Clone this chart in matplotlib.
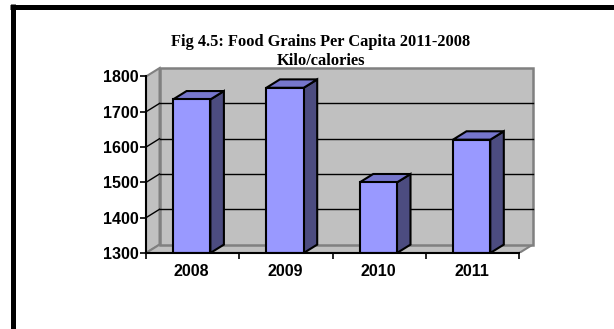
import matplotlib
matplotlib.use("Agg")
import matplotlib.pyplot as plt
from matplotlib.patches import Polygon, Rectangle
from matplotlib.lines import Line2D

# Food grains per capita (kilo/calories)
years = ["2008", "2009", "2010", "2011"]
calories = [1735, 1768, 1500, 1621]
y_ticks = [1300, 1400, 1500, 1600, 1700, 1800]

# 3D look: offset of the back plane in data units
DX = 0.145
DY = 23.8
Y0, Y1 = 1300, 1800
N = len(years)

FRONT = "#9999FF"
TOP = "#7676CC"
SIDE = "#4C4C80"
WALL = "#C0C0C0"
WALL_EDGE = "#808080"

fig = plt.figure(figsize=(6.14, 3.29), dpi=100)
ax = fig.add_axes([146 / 614, 76 / 329, (N + 0.2) * 93.3 / 614, (530 * 0.353) / 329])
ax.set_xlim(0, N + 0.2)
ax.set_ylim(Y0, Y0 + 530)

# walls and floor
ax.add_patch(Polygon([(0, Y0), (DX, Y0 + DY), (DX, Y1 + DY), (0, Y1)],
                     facecolor=WALL, edgecolor=WALL_EDGE, lw=1.5, zorder=0))
ax.add_patch(Polygon([(0, Y0), (N, Y0), (N + DX, Y0 + DY), (DX, Y0 + DY)],
                     facecolor=WALL, edgecolor=WALL_EDGE, lw=1.5, zorder=0))
ax.add_patch(Rectangle((DX, Y0 + DY), N, Y1 - Y0, facecolor=WALL,
                       edgecolor=WALL_EDGE, lw=1.8, zorder=0.5))

# gridlines on back wall and side wall
for v in y_ticks[1:-1]:
    ax.plot([DX, N + DX], [v + DY, v + DY], color="black", lw=1.0, zorder=1)
    ax.plot([0, DX], [v, v + DY], color="black", lw=1.0, zorder=1)

# bars
w = 0.40
for i, v in enumerate(calories):
    x0 = i + 0.49 - w / 2
    x1 = x0 + w
    ax.add_patch(Polygon([(x1, Y0), (x1 + DX, Y0 + DY), (x1 + DX, v + DY), (x1, v)],
                         facecolor=SIDE, edgecolor="black", lw=1.5, zorder=3))
    ax.add_patch(Polygon([(x0, v), (x1, v), (x1 + DX, v + DY), (x0 + DX, v + DY)],
                         facecolor=TOP, edgecolor="black", lw=1.5, zorder=3))
    ax.add_patch(Rectangle((x0, Y0), w, v - Y0, facecolor=FRONT,
                           edgecolor="black", lw=1.5, zorder=3))

# axes lines and ticks
for s in ["top", "right"]:
    ax.spines[s].set_visible(False)
ax.spines["left"].set_bounds(Y0, Y1)
ax.spines["bottom"].set_bounds(0, N)
ax.spines["left"].set_linewidth(1.5)
ax.spines["bottom"].set_linewidth(1.5)
ax.spines["left"].set_zorder(4)
ax.spines["bottom"].set_zorder(4)
ax.patch.set_visible(False)

ax.set_yticks(y_ticks)
ax.set_yticklabels([str(t) for t in y_ticks], fontfamily="Liberation Sans",
                   fontweight="bold", fontsize=11.5)
ax.tick_params(axis="y", length=4, width=1.2, pad=1)

ax.set_xticks(range(N + 1))
ax.set_xticklabels([])
ax.set_xticks([i + 0.49 for i in range(N)], minor=True)
ax.set_xticklabels(years, minor=True, fontfamily="Liberation Sans",
                   fontweight="bold", fontsize=11.5)
ax.tick_params(axis="x", which="major", length=4, width=1.2)
ax.tick_params(axis="x", which="minor", length=0, pad=8)

# title
fig.text(321 / 614, 1 - 42 / 329, "Fig 4.5: Food Grains Per Capita 2011-2008",
         ha="center", va="center", fontfamily="Liberation Serif",
         fontweight="bold", fontsize=11.8)
fig.text(321 / 614, 1 - 61 / 329, "Kilo/calories", ha="center", va="center",
         fontfamily="Liberation Serif", fontweight="bold", fontsize=11.8)

# frame lines on top and left
fig.add_artist(Line2D([10 / 614, 1], [1 - 6.5 / 329, 1 - 6.5 / 329],
                      color="black", lw=3.6, solid_capstyle="butt"))
fig.add_artist(Line2D([12.5 / 614, 12.5 / 614], [0, 1 - 4 / 329],
                      color="black", lw=3.6, solid_capstyle="butt"))

fig.savefig("out.png", dpi=100)
